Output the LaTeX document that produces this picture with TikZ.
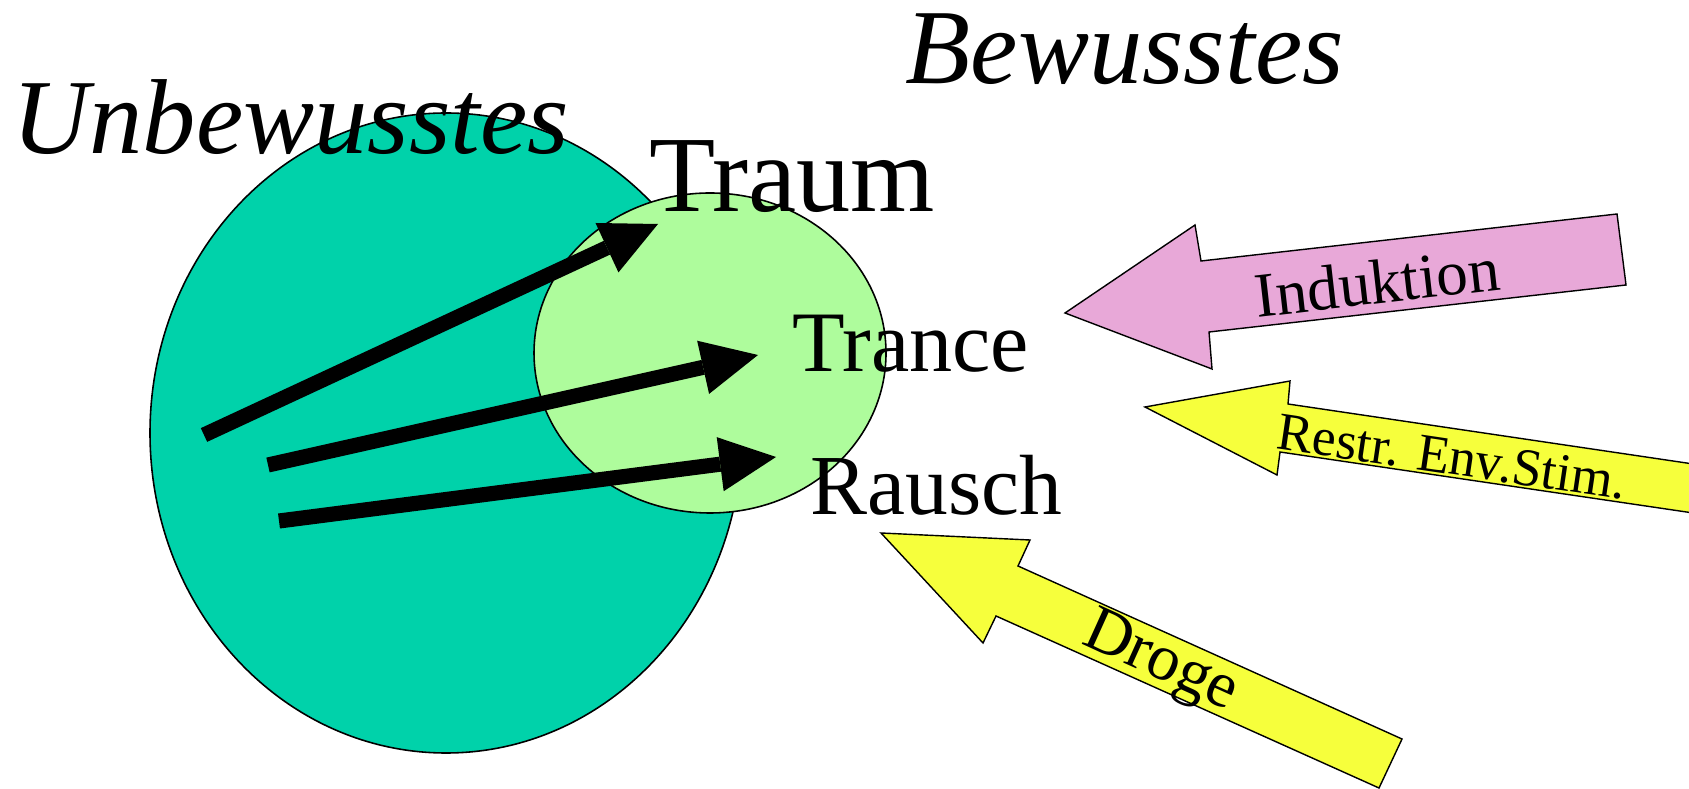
\documentclass[tikz,border=0pt]{standalone}
\usepackage{fontspec}
\setmainfont{Liberation Serif}
\usetikzlibrary{arrows.meta}

\definecolor{unbewusstfill}{RGB}{0,210,170}
\definecolor{bewusstfill}{RGB}{174,252,156}
\definecolor{induktionfill}{RGB}{232,168,216}
\definecolor{reizfill}{RGB}{246,255,60}

\begin{document}
\begin{tikzpicture}[x=0.01cm,y=-0.01cm]
    % Define styles
    \tikzstyle{zone}=[draw=black, line width=0.45pt]
    \tikzstyle{push}=[draw=black, line width=0.4pt, line join=miter]
    \tikzstyle{flow}=[line width=4.3pt, -{Triangle[length=16pt,width=15.5pt,line width=0pt]}]
    \tikzstyle{title}=[anchor=base west, inner sep=0pt, font=\fontsize{30.3}{36}\selectfont\itshape]
    \tikzstyle{state}=[anchor=base west, inner sep=0pt]
    \tikzstyle{cue}=[inner sep=0pt]

    \useasboundingbox (0,0) rectangle (1689,789);

    % Place the two areas
    \draw[zone, fill=unbewusstfill] (446,433) ellipse (296 and 320);
    \draw[zone, fill=bewusstfill] (710,353) ellipse (176 and 160);

    % Place area titles
    \node[title] (unbewusst) at (12,154) {Unbewusstes};
    \node[title] (bewusst) at (905,84) {Bewusstes};

    % Place states
    \node[state, font=\fontsize{30.8}{36}\selectfont] (traum) at (649,212) {Traum};
    \node[state, font=\fontsize{24.5}{30}\selectfont] (trance) at (792,372) {Trance};
    \node[state, font=\fontsize{24.3}{30}\selectfont] (rausch) at (810,515) {Rausch};

    % Start and end points of the arrows
    \coordinate (s1) at (204,435);
    \coordinate (t1) at (658,224);
    \coordinate (s2) at (268,465);
    \coordinate (t2) at (758,355);
    \coordinate (s3) at (279,521);
    \coordinate (t3) at (776,457);

    % Connect unconscious to states
    \draw[flow] (s1) -- (t1);
    \draw[flow] (s2) -- (t2);
    \draw[flow] (s3) -- (t3);

    % Block arrows from outside
    \draw[push, fill=induktionfill] (1065,313) -- (1195,225) -- (1201,261) -- (1617,214)
        -- (1626,285) -- (1209,332) -- (1212,369) -- cycle;
    \draw[push, fill=reizfill] (1145,407) -- (1290,381) -- (1288,404) -- (1700,465)
        -- (1700,514) -- (1280,452) -- (1277,475) -- cycle;
    \draw[push, fill=reizfill] (881,533) -- (1030,540) -- (1018,566) -- (1402,739)
        -- (1379,788) -- (996,616) -- (983,643) -- cycle;

    % Block arrow labels
    \node[cue, rotate=6.5, font=\fontsize{18}{22}\selectfont] (induktion) at (1377,282) {Induktion};
    \node[cue, rotate=-8.4, font=\fontsize{15.2}{18}\selectfont] (reiz) at (1452,457) {Restr. Env.Stim.};
    \node[cue, rotate=-24.3, font=\fontsize{18.5}{22}\selectfont] (droge) at (1160,664) {Droge};
\end{tikzpicture}
\end{document}
